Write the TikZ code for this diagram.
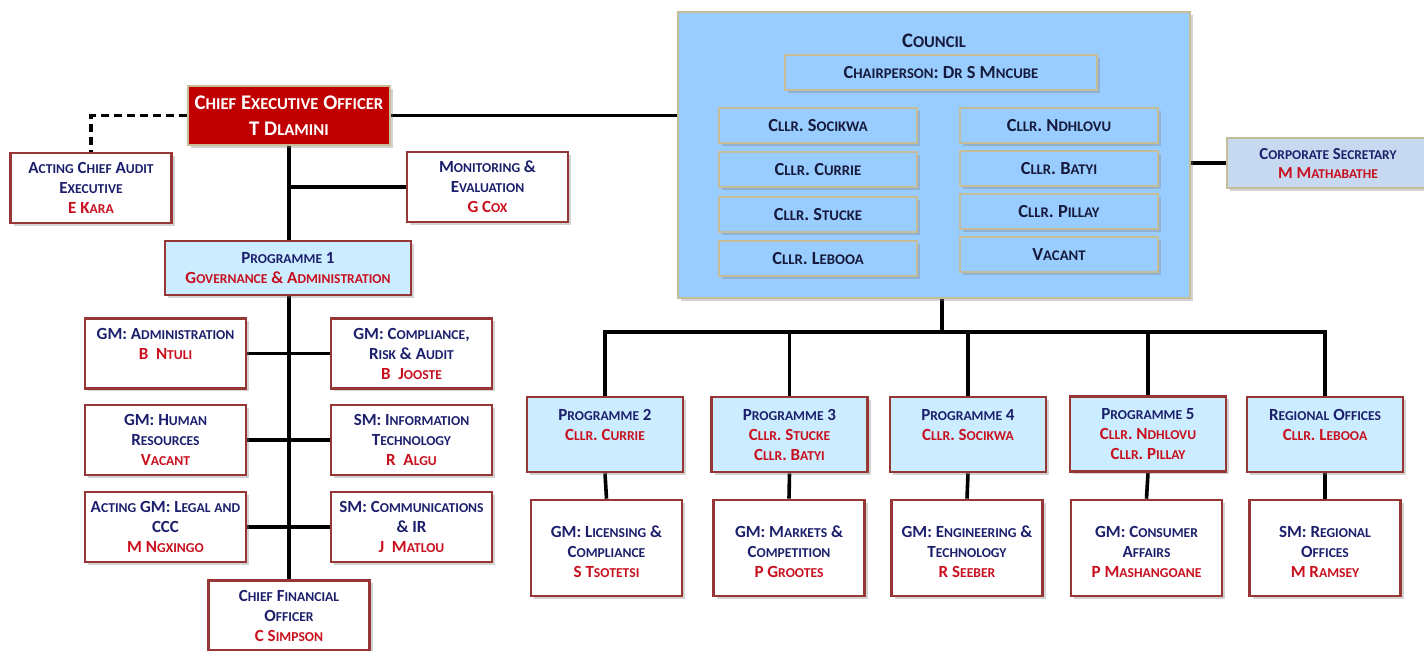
\documentclass[tikz,border=0pt]{standalone}
\usepackage{fontspec}
\setmainfont{Carlito}
\usetikzlibrary{shadows,backgrounds}

\definecolor{navytxt}{RGB}{28,32,108}
\definecolor{darktxt}{RGB}{22,26,60}
\definecolor{nametxt}{RGB}{200,16,30}
\definecolor{boxred}{RGB}{150,55,53}
\definecolor{ceored}{RGB}{192,0,0}
\definecolor{tanline}{RGB}{196,189,151}
\definecolor{councilblue}{RGB}{153,204,255}
\definecolor{progblue}{RGB}{204,236,255}
\definecolor{secblue}{RGB}{198,217,241}

% small capitals made by hand (Carlito has none)
\makeatletter
\newcommand{\lowsc}[1]{{\fontsize{\strip@pt\dimexpr0.8\dimexpr\f@size pt\relax\relax}{\baselineskip}\selectfont\MakeUppercase{#1}}}
\makeatother
\ExplSyntaxOn
\tl_new:N \l_smc_text_tl
\cs_new_protected:Npn \smc #1
  {
    \tl_set:Nn \l_smc_text_tl {#1}
    \regex_replace_all:nnN { ([a-z]+) } { \c{lowsc}\cB\{\1\cE\} } \l_smc_text_tl
    \tl_use:N \l_smc_text_tl
  }
\ExplSyntaxOff

\newcommand{\nm}[1]{\textcolor{nametxt}{#1}}
\newcommand{\boxfont}{\bfseries\fontsize{8.5}{10}\selectfont}

\begin{document}
\begin{tikzpicture}[x=0.5pt,y=-0.5pt,
        shade/.style={drop shadow={shadow xshift=1.5pt,shadow yshift=-1.5pt,opacity=0.35}},
        staffbox/.style={draw=boxred,line width=1.3pt,fill=white,text=navytxt,align=center,
                         font=\boxfont,inner sep=1pt,minimum width=80.5pt,minimum height=35pt,shade},
        progbox/.style={staffbox,fill=progblue,minimum width=78pt,minimum height=37.5pt},
        lowbox/.style={staffbox,minimum width=75.5pt,minimum height=48pt},
        cllrbox/.style={draw=tanline,line width=1pt,fill=councilblue,text=darktxt,align=center,
                        font=\bfseries\fontsize{9.2}{10}\selectfont,
                        minimum width=99pt,minimum height=17.5pt,shade},
        link/.style={line width=1.8pt}]
        \useasboundingbox (0,0) rectangle (1424,651);

        % chief executive and the left branch
        \node (ceo)     at (289,115.5) [staffbox,fill=ceored,draw=tanline,text=white,minimum width=101pt,
                                        minimum height=29.5pt,font=\bfseries\fontsize{10.4}{13}\selectfont]
                                       {\smc{Chief Executive Officer\\T Dlamini}};
        \node (audit)   at (91,188)    [staffbox] {\smc{Acting Chief Audit\\Executive\\\nm{E Kara}}};
        \node (mne)     at (487.5,187) [staffbox] {\smc{Monitoring \&\\Evaluation\\\nm{G Cox}}};
        \node (prog1)   at (288,268)   [staffbox,fill=progblue,minimum width=123pt,minimum height=27pt]
                                       {\smc{Programme 1\\\nm{Governance \& Administration}}};
        \node (gmadmin) at (165.5,353.5) [staffbox] {\smc{GM: Administration\\\nm{B\ \ Ntuli}\\\mbox{}}};
        \node (gmcomp)  at (411.5,353.5) [staffbox] {\smc{GM: Compliance,\\Risk \& Audit\\\nm{B\ \ Jooste}}};
        \node (gmhr)    at (165.5,440) [staffbox] {\smc{GM: Human\\Resources\\\nm{Vacant}}};
        \node (smit)    at (411.5,440) [staffbox] {\smc{SM: Information\\Technology\\\nm{R\ \ Algu}}};
        \node (gmlegal) at (165.5,527) [staffbox] {\smc{Acting GM: Legal and\\CCC\\\nm{M Ngxingo}}};
        \node (smcomms) at (411.5,527) [staffbox] {\smc{SM: Communications\\\& IR\\\nm{J\ \ Matlou}}};
        \node (cfo)     at (289,615.5) [staffbox] {\smc{Chief Financial\\Officer\\\nm{C Simpson}}};

        % council
        \node (council) at (934,155)   [draw=tanline,line width=1pt,fill=councilblue,minimum width=256pt,
                                        minimum height=143pt,shade] {};
        \node (ctitle)  at (934,41)    [text=darktxt,font=\bfseries\fontsize{10.3}{11}\selectfont] {\smc{Council}};
        \node (chair)   at (941,72.5)  [cllrbox,minimum width=156pt] {\smc{Chairperson: Dr S Mncube}};
        \node (socikwa) at (818,126)   [cllrbox] {\smc{Cllr. Socikwa}};
        \node (currie)  at (818,170)   [cllrbox] {\smc{Cllr. Currie}};
        \node (stucke)  at (818,215)   [cllrbox] {\smc{Cllr. Stucke}};
        \node (lebooa)  at (818,259)   [cllrbox] {\smc{Cllr. Lebooa}};
        \node (ndhlovu) at (1059,126)  [cllrbox] {\smc{Cllr. Ndhlovu}};
        \node (batyi)   at (1059,169)  [cllrbox] {\smc{Cllr. Batyi}};
        \node (pillay)  at (1059,212)  [cllrbox] {\smc{Cllr. Pillay}};
        \node (vacant)  at (1059,255)  [cllrbox] {\smc{Vacant}};
        \node (corpsec) at (1328,163)  [draw=tanline,line width=1pt,fill=secblue,text=navytxt,align=center,
                                        font=\bfseries\fontsize{8.4}{9.5}\selectfont,
                                        minimum width=101pt,minimum height=25pt,shade]
                                       {\smc{Corporate Secretary\\\nm{M Mathabathe}}};

        % programmes 2 to 5 and regional offices
        \node (prog2)   at (605,434.5)   [progbox] {\smc{Programme 2\\\nm{Cllr. Currie}\\\mbox{}}};
        \node (prog3)   at (789.5,434.5) [progbox] {\smc{Programme 3\\\nm{Cllr. Stucke}\\\nm{Cllr. Batyi}}};
        \node (prog4)   at (968,434.5)   [progbox] {\smc{Programme 4\\\nm{Cllr. Socikwa}\\\mbox{}}};
        \node (prog5)   at (1148,434)    [progbox] {\smc{Programme 5\\\nm{Cllr. Ndhlovu}\\\nm{Cllr. Pillay}}};
        \node (regional) at (1325,434.5) [progbox] {\smc{Regional Offices\\\nm{Cllr. Lebooa}\\\mbox{}}};

        \node (gmlic)   at (606.5,548)  [lowbox] {\smc{\mbox{}\\GM: Licensing \&\\Compliance\\\nm{S Tsotetsi}}};
        \node (gmmkt)   at (789,548)    [lowbox] {\smc{\mbox{}\\GM: Markets \&\\Competition\\\nm{P Grootes}}};
        \node (gmeng)   at (967,548)    [lowbox] {\smc{\mbox{}\\GM: Engineering \&\\Technology\\\nm{R Seeber}}};
        \node (gmcons)  at (1146.5,548) [lowbox] {\smc{\mbox{}\\GM: Consumer\\Affairs\\\nm{P Mashangoane}}};
        \node (smreg)   at (1325,548)   [lowbox] {\smc{\mbox{}\\SM: Regional\\Offices\\\nm{M Ramsey}}};

        % lines, behind the boxes
        \begin{scope}[on background layer]
        \draw[link] (ceo.south) -- (cfo.north);
        \draw[link] (ceo.south |- mne.west) -- (mne.west);
        \draw[link] (gmadmin.east) -- (gmcomp.west);
        \draw[link] (gmhr.east) -- (smit.west);
        \draw[link] (gmlegal.east) -- (smcomms.west);
        \draw[link,dash pattern=on 4pt off 2.5pt] (ceo.west) -| (audit.north);
        \draw[link] (ceo.east) -- (ceo.east -| council.west);
        \draw[link] (corpsec.west) -- (corpsec.west -| council.east);

        \coordinate (bus) at (942,332);
        \draw[link] (council.south -| bus) -- (bus);
        \draw[link] (prog2.north) -- (prog2.north |- bus) -- (regional.north |- bus) -- (regional.north);
        \foreach \p in {prog3,prog4,prog5}
            \draw[link] (\p.north) -- (\p.north |- bus);

        \draw[link] (prog2.south) -- (gmlic.north);
        \draw[link] (prog3.south) -- (gmmkt.north);
        \draw[link] (prog4.south) -- (gmeng.north);
        \draw[link] (prog5.south) -- (gmcons.north);
        \draw[link] (regional.south) -- (smreg.north);
        \end{scope}
\end{tikzpicture}
\end{document}
